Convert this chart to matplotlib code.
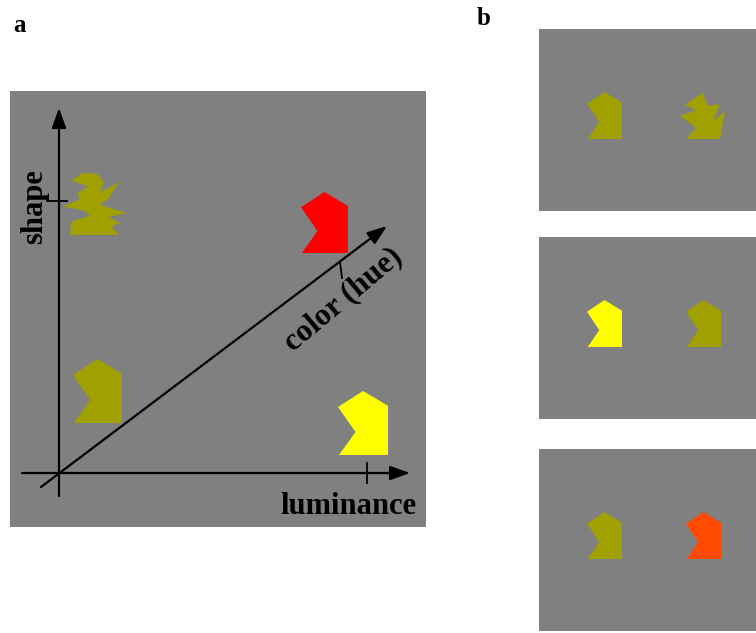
import matplotlib.pyplot as plt
from matplotlib.patches import Rectangle, Polygon

plt.rcParams['font.family'] = ['Liberation Serif', 'DejaVu Serif']

# shape templates, normalised to a unit box (x right, y down)
simple_shape = [(0.50, 0.00), (1.00, 0.23), (1.00, 1.00), (0.02, 1.00), (0.35, 0.64), (0.00, 0.25)]

# traced outline of the odd shape in panel a
complex_a_raw = [(93, 62), (128, 40), (170, 42), (190, 66), (182, 98), (238, 66), (205, 118),
                 (178, 135), (258, 160), (205, 172), (240, 190), (215, 200), (236, 226), (90, 226),
                 (92, 186), (150, 168), (130, 152), (68, 140), (118, 120), (112, 100), (145, 80),
                 (118, 72)]
# traced outline of the odd shape in panel b
complex_b_raw = [(398, 40), (412, 78), (448, 74), (432, 122), (465, 95), (450, 178), (348, 178),
                 (378, 145), (330, 108), (378, 92), (345, 75)]


def normalise(raw):
    xs = [p[0] for p in raw]
    ys = [p[1] for p in raw]
    x0, y0 = min(xs), min(ys)
    w, h = max(xs) - x0, max(ys) - y0
    return [((x - x0) / w, (y - y0) / h) for x, y in raw]


complex_a = normalise(complex_a_raw)
complex_b = normalise(complex_b_raw)

olive = '#a0a000'
yellow = '#ffff00'
red = '#ff0000'
orange = '#ff4a00'
grey = '#808080'

# panel a: (template, x, y, w, h, colour)
panel_a_items = [
    (complex_a, 63, 173, 63, 62, olive),
    (simple_shape, 73, 359, 49, 64, olive),
    (simple_shape, 301, 192, 47, 61, red),
    (simple_shape, 338, 391, 50, 64, yellow),
]
# panel b: three frames, each a pair of shapes (template, x, y-offset, w, h, colour)
panel_b_frames = [29, 237, 449]
panel_b_pairs = [
    [(simple_shape, 587, 63, 35, 47, olive), (complex_b, 680, 64, 45, 46, olive)],
    [(simple_shape, 587, 63, 35, 47, yellow), (simple_shape, 686, 63, 35, 47, olive)],
    [(simple_shape, 587, 63, 35, 47, olive), (simple_shape, 686, 63, 35, 47, orange)],
]


def draw_shape(ax, tmpl, x, y, w, h, color):
    pts = [(x + px * w, y + py * h) for px, py in tmpl]
    ax.add_patch(Polygon(pts, closed=True, facecolor=color, edgecolor='none'))


def arrow(ax, start, tip):
    ax.annotate('', xy=tip, xytext=start,
                arrowprops=dict(arrowstyle='-|>,head_length=1.0,head_width=0.36', lw=1.6,
                                color='black', shrinkA=0, shrinkB=0, mutation_scale=12))


fig = plt.figure(figsize=(7.56, 6.33), dpi=100)
ax = fig.add_axes([0, 0, 1, 1])
ax.set_xlim(0, 756)
ax.set_ylim(633, 0)
ax.axis('off')

# panel a
ax.add_patch(Rectangle((10, 91), 416, 436, facecolor=grey, edgecolor='none'))
for tmpl, x, y, w, h, c in panel_a_items:
    draw_shape(ax, tmpl, x, y, w, h, c)

arrow(ax, (22, 473), (410, 473))
arrow(ax, (59, 496), (59, 108))
arrow(ax, (41, 487), (387, 226))
ax.plot([367, 367], [463, 483], color='black', lw=1.3)
ax.plot([47, 67], [201, 201], color='black', lw=1.3)
ax.plot([340, 342], [262, 278], color='black', lw=1.3)

ax.text(348, 514, 'luminance', fontsize=22, fontweight='bold', ha='center', va='baseline')
ax.text(35, 207, 'shape', fontsize=22, fontweight='bold', rotation=90, ha='center', va='center')
ax.text(343, 300, 'color (hue)', fontsize=22.5, fontweight='bold', rotation=40,
        ha='center', va='center', rotation_mode='anchor')
ax.text(13, 32, 'a', fontsize=18, fontweight='bold', ha='left', va='baseline')
ax.text(477, 25, 'b', fontsize=18, fontweight='bold', ha='left', va='baseline')

# panel b
for top, pair in zip(panel_b_frames, panel_b_pairs):
    ax.add_patch(Rectangle((539, top), 230, 182, facecolor=grey, edgecolor='none'))
    for tmpl, x, dy, w, h, c in pair:
        draw_shape(ax, tmpl, x, top + dy, w, h, c)

fig.savefig('out.png', dpi=100)
